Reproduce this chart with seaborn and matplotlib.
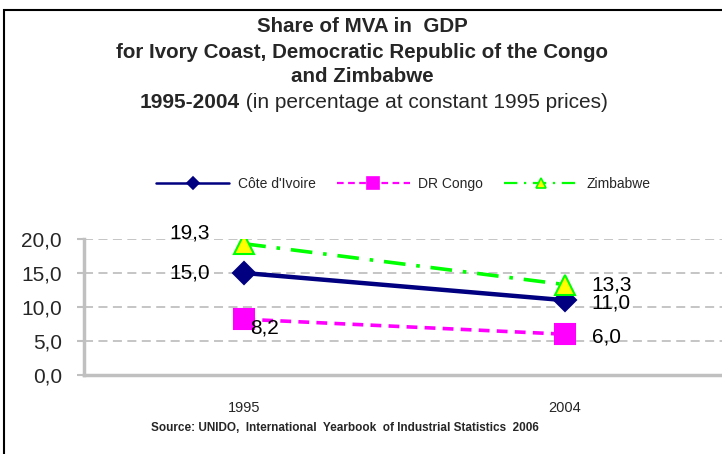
import matplotlib
matplotlib.use("Agg")
import matplotlib.pyplot as plt
import matplotlib.patches as mpatches
import seaborn as sns
import pandas as pd

# ---- data ----
years = ["1995", "2004"]
cote_ivoire = [15.0, 11.0]
dr_congo = [8.2, 6.0]
zimbabwe = [19.3, 13.3]
series_names = ["Côte d'Ivoire", "DR Congo", "Zimbabwe"]
y_ticks = [0, 5, 10, 15, 20]
y_tick_labels = ["0,0", "5,0", "10,0", "15,0", "20,0"]

sns.set_theme(style="white")
plt.rcParams["font.family"] = ["Liberation Sans", "DejaVu Sans"]

fig = plt.figure(figsize=(7.22, 4.54), dpi=100)
W, H = 722, 454
ax = fig.add_axes([84 / W, (H - 375) / H, (725 - 84) / W, (375 - 239) / H])

df = pd.DataFrame({
    "year": years * 3,
    "value": cote_ivoire + dr_congo + zimbabwe,
    "series": [series_names[0]] * 2 + [series_names[1]] * 2 + [series_names[2]] * 2,
})

styles = {
    "Côte d'Ivoire": dict(color="#000080", lw=3.2, marker="D", ms=11, mfc="#000080",
                          mec="#000080", dashes=None),
    "DR Congo": dict(color="#FF00FF", lw=2.6, marker="s", ms=14, mfc="#FF00FF",
                     mec="#FF00FF", dashes=(3, 2)),
    "Zimbabwe": dict(color="#00FF00", lw=2.6, marker="^", ms=15, mfc="#FFFF00",
                     mec="#00FF00", dashes=(6, 3, 1, 3)),
}

for name in series_names:
    st = styles[name]
    sub = df[df["series"] == name]
    sns.lineplot(data=sub, x="year", y="value", ax=ax, color=st["color"],
                 linewidth=st["lw"], marker=st["marker"], markersize=st["ms"],
                 markerfacecolor=st["mfc"], markeredgecolor=st["mec"],
                 markeredgewidth=1.5, label=name, legend=False, sort=False)
    line = ax.lines[-1]
    if st["dashes"] is not None:
        line.set_dashes(st["dashes"])

ax.set_xlim(-0.5, 1.5)
ax.set_ylim(0, 20)
ax.set_yticks(y_ticks)
ax.set_yticklabels(y_tick_labels, fontsize=15)
ax.set_xticks(range(len(years)))
ax.set_xticklabels(years, fontsize=10.5)
ax.set_xlabel("")
ax.set_ylabel("")

for yv in y_ticks[1:]:
    ax.axhline(yv, color="#C0C0C0", lw=1.3, ls=(0, (5, 3)), zorder=0)

for s in ["top", "right"]:
    ax.spines[s].set_visible(False)
for s in ["left", "bottom"]:
    ax.spines[s].set_color("#C0C0C0")
    ax.spines[s].set_linewidth(2.5)
ax.tick_params(axis="y", which="major", left=True, length=5, width=1.5,
               color="#C0C0C0", pad=11)
ax.tick_params(axis="x", which="major", bottom=False, pad=13)
ax.set_facecolor("none")

# data labels
label_specs = [
    (cote_ivoire, [(-34, 0, "right"), (27, -3, "left")]),
    (dr_congo, [(6, -9, "left"), (27, -3, "left")]),
    (zimbabwe, [(-34, 11, "right"), (27, 0, "left")]),
]
for vals, offs in label_specs:
    for i, (v, (dx, dy, ha)) in enumerate(zip(vals, offs)):
        ax.annotate(f"{v:.1f}".replace(".", ","), xy=(i, v), xytext=(dx, dy),
                    textcoords="offset pixels", ha=ha, va="center", fontsize=15,
                    color="black")

# legend
handles = []
for name in series_names:
    st = styles[name]
    h = matplotlib.lines.Line2D([], [], color=st["color"], lw=1.6 if name != "Côte d'Ivoire" else 1.8,
                                marker=st["marker"], markersize={"D": 6, "s": 8, "^": 7}[st["marker"]],
                                markerfacecolor=st["mfc"], markeredgecolor=st["mec"],
                                markeredgewidth=1.2)
    if st["dashes"] is not None:
        h.set_dashes(st["dashes"])
    handles.append(h)
fig.legend(handles, series_names, loc="center", bbox_to_anchor=(403 / W, (H - 184) / H),
           ncol=3, frameon=False, fontsize=10, handlelength=5.3, handletextpad=0.6,
           columnspacing=1.5)

# titles
fig.text(362 / W, (H - 27) / H, "Share of MVA in  GDP", ha="center", va="center",
         fontsize=14.8, fontweight="bold")
fig.text(362 / W, (H - 52) / H, "for Ivory Coast, Democratic Republic of the Congo",
         ha="center", va="center", fontsize=14.8, fontweight="bold")
fig.text(362 / W, (H - 77) / H, "and Zimbabwe", ha="center", va="center",
         fontsize=14.8, fontweight="bold")
t1 = fig.text(0, (H - 102) / H, "1995-2004", ha="left", va="center", fontsize=15,
              fontweight="bold")
t2 = fig.text(0, (H - 102) / H, " (in percentage at constant 1995 prices)", ha="left",
              va="center", fontsize=15)
fig.canvas.draw()
r = fig.canvas.get_renderer()
w1 = t1.get_window_extent(r).width
w2 = t2.get_window_extent(r).width
start = 374 - (w1 + w2) / 2
t1.set_x(start / W)
t2.set_x((start + w1) / W)

fig.text(345 / W, (H - 428) / H,
         "Source: UNIDO,  International  Yearbook  of Industrial Statistics  2006",
         ha="center", va="center", fontsize=8.5, fontweight="bold")

# outer frame (only top & left visible)
fig.patches.append(mpatches.Rectangle((4 / W, -0.1), 1.2, (H - 10) / H + 0.1,
                                      transform=fig.transFigure, fill=False,
                                      edgecolor="black", lw=1.5, zorder=10))

fig.savefig("out.png", dpi=100)
